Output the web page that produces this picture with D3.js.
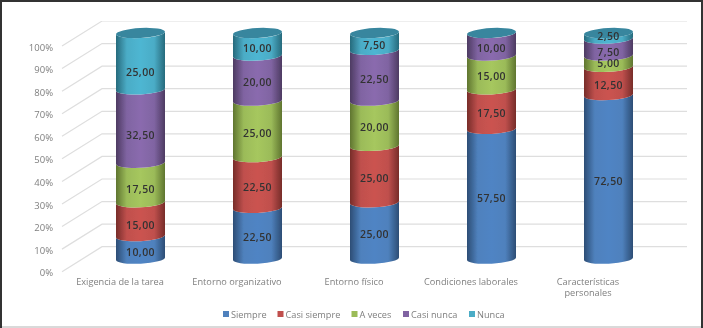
<!DOCTYPE html>
<html lang="es">
<head>
<meta charset="UTF-8">
<title>Cilindros apilados</title>
<script src="https://d3js.org/d3.v7.min.js"></script>
<style>
  html, body { margin: 0; background: #fff; }
  svg { display: block; }
  text { font-family: "Open Sans", sans-serif; }
</style>
</head>
<body>
<script>
const categories = ["Exigencia de la tarea", "Entorno organizativo", "Entorno físico", "Condiciones laborales", "Características personales"];
const seriesNames = ["Siempre", "Casi siempre", "A veces", "Casi nunca", "Nunca"];
const siempre = [10, 22.5, 25, 57.5, 72.5];
const casiSiempre = [15, 22.5, 25, 17.5, 12.5];
const aVeces = [17.5, 25, 20, 15, 5];
const casiNunca = [32.5, 20, 22.5, 10, 7.5];
const nunca = [25, 10, 7.5, 0, 2.5];
const yTicks = [0, 10, 20, 30, 40, 50, 60, 70, 80, 90, 100];

const colors = ["#4f81bd", "#c0504d", "#9bbb59", "#8064a2", "#4bacc6"];
const sideColors = ["#4f84c4", "#cb5350", "#a6c75e", "#8a6bae", "#4eb6d2"];
const edgeColors = ["#2c4d75", "#772c2a", "#5f7530", "#4d3b62", "#276a7c"];

const width = 703, height = 328;
const rx = 24.5, ry = 5, tilt = -3;
const depthX = 40, depthY = 25;   // floor depth of the fake 3d box

const rows = categories.map((c, i) => ({
  cat: c, Siempre: siempre[i], "Casi siempre": casiSiempre[i], "A veces": aVeces[i], "Casi nunca": casiNunca[i], Nunca: nunca[i]
}));
const stacked = d3.stack().keys(seriesNames)(rows);

const x = d3.scaleBand().domain(categories).range([82, 667]);
const y = d3.scaleLinear().domain([0, 100]).range([246.7, 21]);
const cylY = v => y(v) + 12;
const fmt = d3.format(".2f");

const svg = d3.select("body").append("svg").attr("width", width).attr("height", height);
const defs = svg.append("defs");
defs.append("filter").attr("id", "soft").attr("x", 0).attr("y", 0).attr("width", 1).attr("height", 1)
  .append("feGaussianBlur").attr("stdDeviation", 0.45);

seriesNames.forEach((s, i) => {
  const g = defs.append("linearGradient").attr("id", "grad" + i);
  g.append("stop").attr("offset", "0%").attr("stop-color", edgeColors[i]);
  g.append("stop").attr("offset", "22%").attr("stop-color", colors[i]);
  g.append("stop").attr("offset", "50%").attr("stop-color", sideColors[i]);
  g.append("stop").attr("offset", "78%").attr("stop-color", colors[i]);
  g.append("stop").attr("offset", "100%").attr("stop-color", edgeColors[i]);
});

// frame
svg.append("path").attr("d", `M0,${height - 1}H${width}`).attr("stroke", "#d9d9d9").attr("stroke-width", 2);
svg.append("path").attr("d", `M1,${height}V1H${width - 1}V${height}`).attr("fill", "none").attr("stroke", "#333").attr("stroke-width", 2);

const plot = svg.append("g").attr("filter", "url(#soft)");

// grid: horizontal on the back wall, diagonal down to the axis labels
const grid = plot.append("g").attr("stroke", "#dedede").attr("stroke-width", 1.2).attr("fill", "none");
yTicks.forEach(t => {
  grid.append("path").attr("d", `M${102 - depthX},${y(t) + depthY}L102,${y(t)}H687`);
});

// y axis sits on the front edge
const yAxis = plot.append("g")
  .attr("transform", `translate(53,${depthY + 1})`)
  .call(d3.axisLeft(y).tickValues(yTicks).tickSize(0).tickPadding(0).tickFormat(d => d + "%"));
yAxis.select(".domain").remove();
yAxis.selectAll("text").attr("fill", "#7f7f7f").attr("font-size", 9.5).style("font-family", '"Open Sans", sans-serif');

// one ring of the cylinder, from value a (bottom) to value b (top)
function ring(cx, a, b) {
  const c = Math.tan(tilt * Math.PI / 180) * rx;
  const lx = cx - rx, rxx = cx + rx;
  return `M${lx},${cylY(b) - c}L${lx},${cylY(a) - c}` +
    `A${rx},${ry} ${tilt} 0 0 ${rxx},${cylY(a) + c}` +
    `L${rxx},${cylY(b) + c}` +
    `A${rx},${ry} ${tilt} 0 1 ${lx},${cylY(b) - c}Z`;
}

const cyl = plot.append("g");
categories.forEach((c, ci) => {
  const cx = x(c) + x.bandwidth() / 2;
  const col = cyl.append("g");
  stacked.forEach((s, si) => {
    const d = s[ci];
    if (d[1] - d[0] <= 0) return;
    col.append("path").attr("d", ring(cx, d[0], d[1])).attr("fill", `url(#grad${si})`);
  });
  // top cap
  col.append("ellipse")
    .attr("cx", cx).attr("cy", cylY(100)).attr("rx", rx).attr("ry", ry)
    .attr("transform", `rotate(${tilt} ${cx} ${cylY(100)})`)
    .attr("fill", "#37869e");
});

// data labels, front of the cylinder
// the thin segments of the last column were moved by hand in the original
const lastColNudge = [0, 0, -2, 1, -4];
const labels = plot.append("g");
stacked.forEach((s, si) => {
  s.forEach((d, ci) => {
    const v = d[1] - d[0];
    if (v <= 0) return;
    const c = categories[ci];
    // first column labels sit lower than the rest in the original
    let nudge = ci === 0 ? (d[1] + d[0]) / 2 * 0.08 : 0;
    if (ci === 4) nudge = lastColNudge[si];
    labels.append("text")
      .attr("x", x(c) + x.bandwidth() / 2)
      .attr("y", cylY((d[0] + d[1]) / 2) + 4.3 + nudge)
      .attr("dy", "0.35em")
      .attr("text-anchor", "middle")
      .attr("font-size", 10.5)
      .attr("font-weight", 600)
      .attr("letter-spacing", 0.4)
      .attr("fill", "#333")
      .text(fmt(v).replace(".", ","));
  });
});

// category labels, shifted left of the cylinders by the depth
const catText = plot.append("g");
categories.forEach(c => {
  const t = catText.append("text")
    .attr("x", x(c) + x.bandwidth() / 2 - 20.5)
    .attr("y", 285)
    .attr("text-anchor", "middle")
    .attr("font-size", 9.2)
    .attr("fill", "#7f7f7f");
  if (c === "Características personales") {
    t.append("tspan").attr("x", t.attr("x")).text("Características");
    t.append("tspan").attr("x", t.attr("x")).attr("dy", 11).text("personales");
  } else {
    t.text(c);
  }
});

// legend
const legendX = [223, 277.5, 351.5, 403, 469];
const legend = plot.append("g");
seriesNames.forEach((s, i) => {
  const g = legend.append("g").attr("transform", `translate(${legendX[i]},311)`);
  g.append("rect").attr("width", 6).attr("height", 6).attr("fill", colors[i]);
  g.append("text").attr("x", 8).attr("y", 6.5).attr("font-size", 9.2).attr("fill", "#7f7f7f").text(s);
});
</script>
</body>
</html>
